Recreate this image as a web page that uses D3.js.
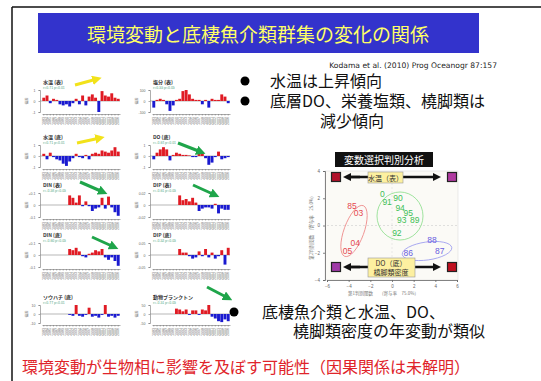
<!DOCTYPE html>
<html><head><meta charset="utf-8">
<script src="https://cdn.jsdelivr.net/npm/d3@7"></script>
<style>body{margin:0;background:#fff;} svg{display:block;}</style>
</head><body>
<svg id="c" width="541" height="381"></svg>
<script>
// ---------- DATA ----------
const years = d3.range(1983, 2007).map(String);
const sstValues = [0.3,0.5,-0.2,0.2,0.1,-0.3,-0.4,-0.3,-0.5,-0.2,0.2,-0.3,0.5,-0.4,0.4,0.6,0.3,-1.0,0.9,0.5,0.4,0.7,0.3,0.2];
const salValues = [-0.6,0.1,0.2,0.1,-0.3,-0.9,-0.4,0.1,0.2,0.9,1.0,0.6,0.2,0.1,0.1,-0.3,0.1,-0.6,0.2,0.1,0.1,0.6,0.4,-0.2];
const btValues  = [0.2,-0.3,0.3,-0.1,-0.3,-0.4,-0.7,-0.9,-0.5,-0.2,0.2,-0.1,-0.2,0.1,-0.3,0.2,0.3,0.2,0.5,0.4,0.3,0.5,0.8,0.4];
const doValues  = [-0.3,0.3,0.6,0.8,0.6,-0.4,0.1,0.3,0.2,0.1,0.1,0.05,-0.1,-0.1,0.2,0.3,-0.2,-0.8,-0.6,-0.1,0.4,-0.3,-0.2,-0.1];
const dinValues = [null,null,null,null,null,null,null,null,0.8,0.6,0.2,0.8,-0.1,0.3,-0.1,-0.5,-0.3,-0.2,0.6,-0.3,0.7,-0.2,-0.6,-0.9];
const dipValues = [null,null,null,null,null,null,null,null,0.8,0.4,0.5,0.3,0.6,0.2,-0.5,-0.3,-0.2,-0.2,-0.3,0.1,-0.7,-0.3,-0.4,-0.4];
const dsiValues = [null,null,null,null,null,null,null,null,0.5,0.4,0.6,0.3,-0.1,-0.2,0.1,0.2,0.4,0.3,0.5,-0.2,-0.4,-0.2,-0.5,-0.9];
const dspValues = [null,null,null,null,null,null,null,null,0.5,0.2,0.2,-0.1,-0.3,-0.2,0.3,-0.1,0.5,-0.2,0.2,-0.3,-0.1,0.4,-0.8,0.6];
const fishValues = [null,null,null,null,null,null,null,null,-0.1,-0.2,1.0,-0.2,-0.3,-0.1,0.7,-0.3,-0.2,-0.4,-0.1,1.0,-0.3,-0.2,-0.4,-0.2];
const zooValues = [null,null,null,null,null,null,null,0.6,0.5,0.3,0.5,-0.1,0.4,0.4,-0.1,0.5,0.4,1.0,-0.3,-0.5,-0.8,-0.9,-0.6,-0.8];
const panelTitles = ["水温 (表)","塩分 (表)","水温 (底)","DO (底)","DIN (表)","DIP (表)","DIN (底)","DIP (底)","ソウハチ (底)","動物プランクトン"];
const panelSubs = ["r=0.71  p<0.01","r=0.55  p<0.05","r=0.71  p<0.01","r=-0.63 p<0.01","r=-0.58 p<0.05","r=-0.61 p<0.05","r=-0.60 p<0.05","r=-0.52 p<0.05","r=0.77  p<0.01","r=-0.51 p<0.05"];
const panelTickLabels = [["1","0","-1"],["100","0","-100"],["1","0","-1"],["1","0","-1"],["+0.1","0","-0.1"],["0.02","0","-0.02"],["+0.1","0","-0.1"],["0.05","0","-0.05"],["10","0","-10"],["50","0","-50"]];

const scatterLabels = ["85","03","04","05","0","90","91","94","95","93","89","92","88","86","87"];
const scatterX = [-3.7,-3.1,-3.4,-4.1,-0.9,0.55,-0.45,0.75,1.5,0.9,2.1,0.45,3.7,1.5,4.4];
const scatterY = [1.4,0.9,-1.3,-1.9,2.3,2.0,1.7,1.3,0.9,0.4,0.4,-0.55,-1.1,-2.0,-1.9];
const scatterGroup = ["a","a","a","a","b","b","b","b","b","b","b","b","c","c","c"];
const scatterXTicks = [-6,-4,-2,0,2,4,6];
const scatterYTicks = [-4,-2,0,2,4];

// ---------- DRAW ----------
const svg = d3.select("#c");
const JP = "'Noto Sans CJK JP','Noto Sans',sans-serif";

// frame
svg.append("line").attr("x1",12).attr("y1",7).attr("x2",541).attr("y2",7).attr("stroke","#111").attr("stroke-width",1.5);
svg.append("line").attr("x1",12).attr("y1",7).attr("x2",12).attr("y2",381).attr("stroke","#111").attr("stroke-width",1.5);

// title
svg.append("rect").attr("x",38).attr("y",13).attr("width",441).attr("height",40).attr("fill","#3333cc");
svg.append("text").attr("x",258).attr("y",33).attr("text-anchor","middle").attr("dominant-baseline","central")
  .attr("font-family",JP).attr("font-size",19).attr("fill","#ffff66").text("環境変動と底棲魚介類群集の変化の関係");
svg.append("text").attr("x",497).attr("y",65).attr("text-anchor","end").attr("dominant-baseline","central")
  .attr("font-family","'DejaVu Sans',sans-serif").attr("font-size",7.6).attr("fill","#222")
  .text("Kodama et al. (2010)  Prog Oceanogr  87:157");

// bullets
function bullet(x, y){ svg.append("circle").attr("cx",x).attr("cy",y).attr("r",4.5).attr("fill","#000"); }
function block(lines, col){
  const t = svg.append("text").attr("font-family",JP).attr("font-size",16).attr("fill",col||"#111");
  lines.forEach(([x, y, s]) => t.append("tspan").attr("x", x).attr("y", y + 5.6).text(s));
}
bullet(245,81); bullet(245,101);
block([[270,81,"水温は上昇傾向"],[270,101,"底層DO、栄養塩類、橈脚類は"],[320,121,"減少傾向"]]);
bullet(234,312);
block([[262,312,"底棲魚介類と水温、DO、"],[293,331,"橈脚類密度の年変動が類似"]]);
block([[22,367,"環境変動が生物相に影響を及ぼす可能性（因果関係は未解明）"]],"#e0242a");

// small panels
const panelValues = [sstValues,salValues,btValues,doValues,dinValues,dipValues,dsiValues,dspValues,fishValues,zooValues];
const colX = [[40,120],[150,230]];
const rowZero = [101,156,205,255,314];
const rowH = [11,11,12,12,9];
panelValues.forEach((vals, i) => {
  const col = i % 2, row = Math.floor(i / 2);
  const [x0, x1] = colX[col];
  const z = rowZero[row], h = rowH[row];
  const g = svg.append("g");
  const xs = d3.scaleBand().domain(years).range([x0 + 2, x1]).padding(0.1);
  const ys = d3.scaleLinear().domain([-1, 1]).range([z + h, z - h]);
  g.append("text").attr("x", x0 + 3).attr("y", z - h - 6).attr("font-family", JP).attr("font-size", 5)
    .attr("font-weight","bold").attr("fill","#333").text(panelTitles[i]);
  g.append("text").attr("x", x0 + 3).attr("y", z - h - 1).attr("font-family", JP).attr("font-size", 3.5)
    .attr("fill","#5a8").text(panelSubs[i]);
  const yAxis = d3.axisLeft(ys).tickValues([1, 0, -1]).tickSize(1.5)
    .tickFormat((d, k) => panelTickLabels[i][k]);
  const ya = g.append("g").attr("transform", `translate(${x0},0)`).call(yAxis);
  ya.selectAll("text").attr("font-size", 3.5).attr("fill", "#666").attr("font-family","sans-serif");
  ya.selectAll("line,path").attr("stroke", "#777").attr("stroke-width", 0.6);
  g.append("text").attr("transform", `translate(${x0 - 12},${z}) rotate(-90)`).attr("text-anchor","middle")
    .attr("font-size",3.5).attr("fill","#777").attr("font-family",JP).text("偏差");
  g.append("line").attr("x1", x0).attr("x2", x1).attr("y1", ys(0)).attr("y2", ys(0)).attr("stroke","#888").attr("stroke-width",0.6);
  g.selectAll("rect").data(years.map((yr, k) => ({yr, v: vals[k]})).filter(d => d.v !== null)).join("rect")
    .attr("x", d => xs(d.yr)).attr("width", xs.bandwidth())
    .attr("y", d => Math.min(ys(d.v), ys(0))).attr("height", d => Math.abs(ys(d.v) - ys(0)))
    .attr("fill", d => d.v >= 0 ? "#e01b24" : "#1a1ad0");
  const by = z + h + 2;
  const xa = g.append("g").attr("transform", `translate(0,${by})`)
    .call(d3.axisBottom(xs).tickSize(1.5).tickSizeOuter(0).tickFormat(""));
  xa.selectAll("line,path").attr("stroke", "#777").attr("stroke-width", 0.6);
  g.selectAll("text.yr").data(years).join("text").attr("class","yr")
    .attr("transform", d => `translate(${xs(d) + xs.bandwidth() / 2 + 1.2},${by + 3}) rotate(-90)`)
    .attr("text-anchor","end").attr("font-size", 3.6).attr("fill","#666").attr("font-family","sans-serif").text(d => d);
});

// arrows
const defs = svg.append("defs");
function marker(id, col){
  defs.append("marker").attr("id", id).attr("viewBox","0 0 10 10").attr("refX",5).attr("refY",5)
    .attr("markerWidth",3.2).attr("markerHeight",3.2).attr("orient","auto-start-reverse")
    .append("path").attr("d","M0,0L10,5L0,10z").attr("fill",col);
}
marker("ay","#f2e21a"); marker("ag","#1fa54a"); marker("ak","#111");
function arrow(x1,y1,x2,y2,id,col,w){
  svg.append("line").attr("x1",x1).attr("y1",y1).attr("x2",x2).attr("y2",y2)
    .attr("stroke",col).attr("stroke-width",w).attr("marker-end",`url(#${id})`);
}
arrow(75,85,97,79,"ay","#f2e21a",3);
arrow(77,143,100,138,"ay","#f2e21a",3);
arrow(178,143,201,152,"ag","#1fa54a",3);
arrow(80,182,103,192,"ag","#1fa54a",3);
arrow(193,185,215,195,"ag","#1fa54a",3);
arrow(92,237,114,247,"ag","#1fa54a",3);
arrow(207,287,228,298,"ag","#1fa54a",3);

// ---------- scatter ----------
const sx = d3.scaleLinear().domain([-6, 6]).range([327, 457]);
const sy = d3.scaleLinear().domain([-4, 4]).range([280, 171]);
const sc = svg.append("g");
sc.append("rect").attr("x",325).attr("y",171).attr("width",133).attr("height",109).attr("fill","#fbfaf6").attr("stroke","#ddd").attr("stroke-width",0.6);
sc.append("line").attr("x1",sx(-6)).attr("x2",sx(6)).attr("y1",sy(0)).attr("y2",sy(0)).attr("stroke","#ccc").attr("stroke-dasharray","2,2").attr("stroke-width",0.6);
sc.append("line").attr("x1",sx(0)).attr("x2",sx(0)).attr("y1",sy(4)).attr("y2",sy(-4)).attr("stroke","#ddd").attr("stroke-dasharray","2,2").attr("stroke-width",0.6);
const sxa = sc.append("g").attr("transform","translate(0,280)").call(d3.axisBottom(sx).tickValues(scatterXTicks).tickSize(2));
const sya = sc.append("g").attr("transform","translate(325,0)").call(d3.axisLeft(sy).tickValues(scatterYTicks).tickSize(2));
[sxa, sya].forEach(a => { a.selectAll("text").attr("font-size",4.5).attr("fill","#666"); a.selectAll("line,path").attr("stroke","#666").attr("stroke-width",0.8); });
sc.append("text").attr("x",382).attr("y",295).attr("text-anchor","middle").attr("font-size",4.5).attr("fill","#777").attr("font-family",JP)
  .text("第1判別関数　　(寄与率　75.0%)");
sc.append("text").attr("transform","translate(313,228) rotate(-90)").attr("text-anchor","middle").attr("font-size",4.5).attr("fill","#777").attr("font-family",JP)
  .text("第2判別関数　(寄与率　25.0%)");

const gcol = {a:"#e5474f", b:"#3cbf55", c:"#6a5ee0"};
sc.append("ellipse").attr("cx",354).attr("cy",231).attr("rx",10).attr("ry",27).attr("transform","rotate(20,354,231)")
  .attr("fill","none").attr("stroke","#e88").attr("stroke-width",0.8);
sc.append("ellipse").attr("cx",400).attr("cy",216).attr("rx",23).attr("ry",24)
  .attr("fill","none").attr("stroke","#8d8").attr("stroke-width",0.8);
sc.append("ellipse").attr("cx",427).attr("cy",251).attr("rx",25).attr("ry",9).attr("transform","rotate(-8,427,251)")
  .attr("fill","none").attr("stroke","#99e").attr("stroke-width",0.8);
sc.selectAll("text.pt").data(scatterLabels.map((l,k)=>({l, x:scatterX[k], y:scatterY[k], g:scatterGroup[k]}))).join("text")
  .attr("class","pt").attr("x", d => sx(d.x)).attr("y", d => sy(d.y)).attr("text-anchor","middle").attr("dominant-baseline","central")
  .attr("font-size",8.5).attr("font-family","sans-serif").attr("fill", d => gcol[d.g]).text(d => d.l);

sc.append("rect").attr("x",335).attr("y",152).attr("width",98).attr("height",15).attr("fill","#111");
sc.append("text").attr("x",384).attr("y",159.5).attr("text-anchor","middle").attr("dominant-baseline","central")
  .attr("font-family",JP).attr("font-size",10).attr("fill","#fff").text("変数選択判別分析");

arrow(347,177,437,177,"ak","#111",2.5);
svg.append("line").attr("x1",360).attr("y1",177).attr("x2",347).attr("y2",177).attr("stroke","#111").attr("stroke-width",2.5).attr("marker-end","url(#ak)");
arrow(347,267,437,267,"ak","#111",2.5);
svg.append("line").attr("x1",360).attr("y1",267).attr("x2",347).attr("y2",267).attr("stroke","#111").attr("stroke-width",2.5).attr("marker-end","url(#ak)");
[[336,177,"#b0102a"],[452,177,"#b03aa0"],[336,267,"#a03aa8"],[452,267,"#c01020"]].forEach(([x,y,c]) => {
  svg.append("rect").attr("x",x-4.5).attr("y",y-4.5).attr("width",9).attr("height",9).attr("fill",c).attr("stroke","#222").attr("stroke-width",1.2);
});
svg.append("rect").attr("x",368).attr("y",172).attr("width",35).attr("height",11).attr("fill","#fdf0a0").attr("stroke","#999").attr("stroke-width",0.6);
svg.append("text").attr("x",385.5).attr("y",177.5).attr("text-anchor","middle").attr("dominant-baseline","central")
  .attr("font-family",JP).attr("font-size",7).attr("fill","#333").text("水温（表）");
svg.append("rect").attr("x",368).attr("y",258).attr("width",47).attr("height",19).attr("fill","#fdf0a0").attr("stroke","#999").attr("stroke-width",0.6);
svg.append("text").attr("x",391).attr("y",263).attr("text-anchor","middle").attr("dominant-baseline","central")
  .attr("font-family",JP).attr("font-size",7).attr("fill","#333").text("DO（底）");
svg.append("text").attr("x",391).attr("y",272).attr("text-anchor","middle").attr("dominant-baseline","central")
  .attr("font-family",JP).attr("font-size",7).attr("fill","#333").text("橈脚類密度");
</script>
</body></html>
